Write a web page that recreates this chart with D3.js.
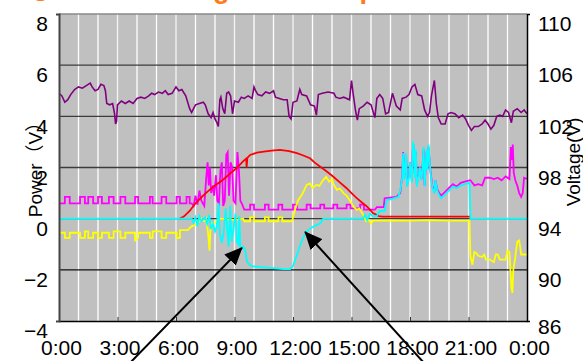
<!DOCTYPE html>
<html>
<head>
<meta charset="utf-8">
<script src="https://cdn.jsdelivr.net/npm/d3@7"></script>
<style>
  body { margin: 0; background: #fff; }
  svg { display: block; }
</style>
</head>
<body>
<svg id="chart" width="583" height="361"></svg>
<script>

// x ticks (hours) and their labels
const hourTicks = [0, 3, 6, 9, 12, 15, 18, 21, 24];
const hourLabels = ['0:00', '3:00', '6:00', '9:00', '12:00', '15:00', '18:00', '21:00', '0:00'];
const powerTicks = [8, 6, 4, 2, 0, -2, -4];
const voltTicks = [110, 106, 102, 98, 94, 90, 86];

// voltage, right axis [hour, V]
const voltage = [[0,103.8],[0.15,103.6],[0.3,103.1],[0.45,103.3],[0.6,103.7],[0.8,104.1],[1.0,104.3],[1.2,104.2],[1.4,104.4],[1.6,104.6],[1.7,104.3],[1.85,104.0],[2.0,104.1],[2.15,104.5],[2.3,104.4],[2.38,104.0],[2.45,103.0],[2.6,102.9],[2.75,103.0],[2.85,102.2],[2.9,101.4],[2.95,101.6],[3.0,102.9],[3.2,103.2],[3.4,103.0],[3.6,103.2],[3.8,103.0],[4.0,103.4],[4.2,103.5],[4.4,103.4],[4.6,103.6],[4.75,103.8],[4.9,103.7],[5.1,103.9],[5.3,103.8],[5.45,104.0],[5.6,103.7],[5.8,103.8],[6.0,104.3],[6.15,104.0],[6.3,104.1],[6.5,103.6],[6.7,102.6],[6.8,102.3],[6.9,102.6],[7.0,102.9],[7.2,103.0],[7.4,103.1],[7.5,102.9],[7.65,102.2],[7.8,101.9],[7.9,102.3],[8.0,101.8],[8.1,101.5],[8.17,101.2],[8.25,103.3],[8.3,103.5],[8.4,102.6],[8.5,102.2],[8.6,103.8],[8.7,103.9],[8.8,103.6],[8.9,102.2],[9.0,103.2],[9.2,103.1],[9.35,103.5],[9.5,103.4],[9.7,103.6],[9.9,103.4],[10.0,104.3],[10.08,104.0],[10.2,103.7],[10.4,103.6],[10.6,103.9],[10.8,103.8],[11.0,104.0],[11.1,103.5],[11.3,103.4],[11.5,103.3],[11.7,103.3],[11.8,102.0],[11.9,101.8],[12.0,103.1],[12.2,103.2],[12.35,104.1],[12.45,103.7],[12.7,103.6],[12.9,102.9],[13.1,102.8],[13.2,102.1],[13.3,103.7],[13.5,103.8],[13.8,103.9],[14.1,103.8],[14.2,103.5],[14.4,103.4],[14.6,103.5],[14.9,103.3],[15.0,104.8],[15.1,103.6],[15.2,102.5],[15.3,101.7],[15.4,102.6],[15.6,102.8],[15.8,103.1],[16.0,102.9],[16.2,101.9],[16.3,103.4],[16.45,103.7],[16.6,103.4],[16.75,102.2],[16.9,102.3],[17.1,103.8],[17.3,102.8],[17.5,102.5],[17.6,103.4],[17.8,103.5],[17.95,103.7],[18.1,104.3],[18.25,104.5],[18.4,103.7],[18.6,103.6],[18.75,102.5],[18.9,102.0],[19.0,102.3],[19.1,103.6],[19.25,104.8],[19.35,103.0],[19.45,101.9],[19.6,101.4],[19.8,101.4],[19.95,102.2],[20.1,102.3],[20.3,102.2],[20.5,101.9],[20.7,102.1],[20.85,101.8],[21.0,101.3],[21.15,100.9],[21.3,101.2],[21.5,101.2],[21.7,101.4],[21.85,101.7],[22.0,101.4],[22.15,101.0],[22.3,101.3],[22.45,102.0],[22.6,102.1],[22.75,102.0],[22.9,102.5],[23.05,102.3],[23.2,101.5],[23.3,102.4],[23.5,102.6],[23.7,102.3],[23.85,102.5],[24.0,102.2]];

// load, left axis [hour, kW]
const load = [[0,0.6],[0.3,0.6],[0.3,0.85],[0.55,0.85],[0.55,0.6],[1.08,0.6],[1.08,0.85],[1.33,0.85],[1.33,0.6],[1.5,0.6],[1.5,0.85],[1.75,0.85],[1.75,0.6],[2.0,0.6],[2.0,0.85],[2.2,0.85],[2.2,0.6],[2.56,0.6],[2.56,0.85],[2.8,0.85],[2.8,0.6],[3.15,0.6],[3.15,0.85],[3.4,0.85],[3.4,0.6],[3.9,0.6],[3.9,0.85],[4.06,0.85],[4.06,0.6],[4.66,0.6],[4.66,0.85],[4.8,0.85],[4.8,0.6],[5.26,0.6],[5.26,0.85],[5.5,0.85],[5.5,0.6],[6.03,0.6],[6.03,0.85],[6.2,0.85],[6.2,0.6],[6.54,0.6],[6.54,0.85],[6.7,0.85],[6.7,0.6],[6.8,0.6],[6.9,0.5],[7.0,0.9],[7.1,0.55],[7.2,1.1],[7.3,0.7],[7.45,0.5],[7.55,1.6],[7.62,2.2],[7.68,1.3],[7.74,2.0],[7.8,1.0],[7.9,1.3],[7.95,0.9],[8.05,1.7],[8.12,0.7],[8.2,0.6],[8.28,1.9],[8.35,2.2],[8.42,0.5],[8.5,0.7],[8.58,2.5],[8.65,2.6],[8.72,0.9],[8.8,2.2],[8.88,2.0],[8.95,0.7],[9.05,0.6],[9.15,2.6],[9.22,2.0],[9.3,0.7],[9.4,0.55],[9.5,0.35],[9.8,0.35],[9.8,0.55],[10.0,0.55],[10.0,0.35],[10.56,0.35],[10.56,0.55],[10.75,0.55],[10.75,0.35],[11.25,0.35],[11.25,0.55],[11.45,0.55],[11.45,0.35],[12.0,0.35],[12.0,0.55],[12.2,0.55],[12.2,0.35],[12.7,0.35],[12.7,0.55],[12.9,0.55],[12.9,0.4],[13.4,0.4],[13.4,0.55],[13.6,0.55],[13.6,0.4],[14.07,0.4],[14.07,0.55],[14.27,0.55],[14.27,0.4],[14.75,0.4],[14.75,0.55],[14.95,0.55],[14.95,0.4],[15.44,0.4],[15.44,0.55],[15.64,0.55],[15.64,0.35],[16.2,0.35],[16.3,0.45],[16.65,0.45],[16.7,0.8],[17.3,0.85],[17.5,1.0],[17.6,1.7],[17.65,2.6],[17.7,1.6],[17.8,2.5],[17.85,1.3],[17.95,1.7],[18.0,2.2],[18.1,1.5],[18.15,2.85],[18.2,2.8],[18.25,1.7],[18.3,2.6],[18.35,1.35],[18.45,1.75],[18.5,2.0],[18.6,1.55],[18.7,2.7],[18.75,1.3],[18.85,2.6],[18.9,1.95],[18.95,2.8],[19.05,1.85],[19.15,1.25],[19.25,1.1],[19.3,1.5],[19.4,1.15],[19.5,1.0],[19.6,0.9],[19.8,1.05],[20.0,1.2],[20.2,1.35],[20.4,1.25],[20.6,1.4],[20.8,1.45],[21.05,1.5],[21.1,1.5],[21.3,1.3],[21.5,1.35],[21.7,1.3],[21.85,1.6],[22.1,1.6],[22.3,1.55],[22.5,1.6],[22.7,1.5],[22.9,1.65],[23.1,1.55],[23.17,2.8],[23.22,2.3],[23.27,2.9],[23.32,1.8],[23.4,1.5],[23.5,1.3],[23.6,1.0],[23.7,0.85],[23.78,1.0],[23.85,1.6],[24,1.55]];

// PV generation
const pv = [[6.2,0],[6.4,0.08],[6.7,0.3],[7.0,0.6],[7.3,0.83],[7.6,1.05],[8.0,1.3],[8.4,1.51],[8.8,1.78],[9.1,1.97],[9.45,2.25],[9.6,2.35],[9.62,2.0],[9.66,2.38],[9.8,2.49],[10.15,2.58],[10.5,2.62],[10.9,2.66],[11.33,2.69],[11.8,2.64],[12.2,2.56],[12.5,2.48],[12.87,2.36],[13.1,2.2],[13.4,2.03],[13.7,1.86],[14.07,1.64],[14.4,1.42],[14.75,1.19],[15.0,1.0],[15.27,0.8],[15.55,0.62],[15.8,0.47],[16.1,0.22],[16.4,0.1],[16.6,0.08],[21.1,0.08]];

// battery
const battery = [[0,-0.55],[0.3,-0.55],[0.3,-0.75],[0.55,-0.75],[0.55,-0.55],[1.08,-0.55],[1.08,-0.75],[1.33,-0.75],[1.33,-0.5],[1.5,-0.5],[1.5,-0.75],[1.75,-0.75],[1.75,-0.55],[2.0,-0.55],[2.0,-0.75],[2.2,-0.75],[2.2,-0.55],[2.56,-0.55],[2.56,-0.75],[2.8,-0.75],[2.8,-0.5],[3.15,-0.5],[3.15,-0.75],[3.4,-0.75],[3.4,-0.55],[3.9,-0.55],[3.9,-0.85],[4.06,-0.75],[4.06,-0.55],[4.66,-0.55],[4.66,-0.75],[4.8,-0.75],[4.8,-0.5],[5.26,-0.5],[5.26,-0.75],[5.5,-0.75],[5.5,-0.55],[6.03,-0.55],[6.03,-0.75],[6.2,-0.75],[6.2,-0.45],[6.6,-0.45],[6.8,-0.3],[7.0,-0.24],[7.2,-0.1],[7.3,0],[7.45,-0.1],[7.55,0.0],[7.65,-0.6],[7.72,-1.25],[7.76,-0.5],[7.82,-0.2],[8.0,-0.15],[8.15,-0.05],[8.3,0.0],[9.0,-0.05],[9.45,0.0],[9.5,-0.1],[9.8,-0.1],[9.8,0.05],[10.0,0.05],[10.0,-0.1],[10.56,-0.1],[10.56,0.05],[10.75,0.05],[10.75,-0.1],[11.25,-0.1],[11.25,0.05],[11.45,0.05],[11.45,-0.1],[11.95,-0.1],[12.1,0.34],[12.25,0.7],[12.5,0.99],[12.7,1.32],[12.87,1.38],[13.0,1.2],[13.2,1.32],[13.35,1.28],[13.55,1.51],[13.7,1.64],[13.85,1.45],[14.0,1.55],[14.07,1.35],[14.25,1.13],[14.4,1.18],[14.6,0.99],[14.75,0.9],[14.9,0.73],[15.1,0.47],[15.27,0.34],[15.4,0.4],[15.6,0.15],[15.75,-0.1],[15.9,-0.05],[16.0,-0.2],[16.1,-0.08],[17,-0.07],[18,-0.08],[19,-0.06],[20,-0.08],[21.05,-0.08],[21.1,-1.48],[21.2,-1.8],[21.3,-1.3],[21.4,-1.35],[21.5,-1.45],[21.7,-1.5],[21.8,-1.4],[21.9,-1.6],[22.1,-1.6],[22.3,-1.7],[22.4,-1.4],[22.5,-1.4],[22.6,-1.6],[22.9,-1.6],[23.0,-1.25],[23.1,-1.3],[23.2,-2.7],[23.25,-2.9],[23.3,-2.0],[23.4,-1.5],[23.5,-0.9],[23.6,-0.85],[23.7,-1.4],[24,-1.4]];

// grid (purchase / reverse flow)
const grid = [[0,0],[6.8,0],[6.9,-0.15],[7.0,0.05],[7.1,-0.3],[7.2,0.1],[7.3,-0.1],[7.5,0.05],[7.6,-0.2],[7.7,0.15],[7.8,-0.4],[7.9,-0.2],[8.0,-0.5],[8.1,-0.3],[8.18,0.6],[8.25,-0.6],[8.35,-0.95],[8.45,-0.5],[8.55,0.4],[8.62,-0.3],[8.7,-1.1],[8.78,0.5],[8.85,-0.9],[8.95,-0.4],[9.05,0.2],[9.12,-0.9],[9.2,-1.0],[9.25,0.1],[9.3,-1.2],[9.45,-1.1],[9.55,-1.25],[9.65,-1.7],[9.8,-1.82],[10.0,-1.87],[10.5,-1.9],[11.0,-1.93],[11.5,-1.97],[11.85,-1.97],[12.0,-1.85],[12.2,-1.42],[12.4,-0.96],[12.55,-0.7],[12.7,-0.5],[12.85,-0.4],[13.05,-0.31],[13.2,-0.25],[13.4,-0.18],[13.55,0],[15.6,0],[15.7,0.15],[15.8,-0.05],[15.95,0.2],[16.1,0.1],[16.3,0.1],[16.45,0.3],[16.7,0.3],[16.8,0.73],[17.0,0.75],[17.2,0.8],[17.4,0.85],[17.5,1.1],[17.6,1.6],[17.65,2.57],[17.7,1.5],[17.8,2.55],[17.85,1.25],[17.95,1.6],[18.0,2.2],[18.1,1.4],[18.15,2.95],[18.2,2.9],[18.25,1.6],[18.3,2.7],[18.35,1.25],[18.45,1.7],[18.5,2.0],[18.6,1.5],[18.7,2.8],[18.75,1.25],[18.85,2.7],[18.9,1.9],[18.95,2.9],[19.05,1.8],[19.15,1.2],[19.25,1.0],[19.3,1.5],[19.4,1.1],[19.5,0.9],[19.6,0.8],[19.8,0.95],[20.0,1.1],[20.2,1.25],[20.4,1.2],[20.6,1.3],[20.8,1.35],[21.05,1.4],[21.1,0],[24,0]];

// arrows: [tailHour, tailPower, tipHour, tipPower]
const arrows = [[3.64, -5.64, 9.38, -1.14], [18.72, -5.64, 12.62, -0.52]];


const svg = d3.select('#chart');
const plot = {left: 59, right: 527, top: 14, bottom: 321};

const x = d3.scaleLinear().domain([0, 24]).range([plot.left, plot.right]);
const yL = d3.scaleLinear().domain([-4, 8]).range([plot.bottom, plot.top]);
const yR = d3.scaleLinear().domain([86, 110]).range([plot.bottom, plot.top]);

const font = '"Liberation Sans Narrow", "Arial Narrow", "Liberation Sans", sans-serif';

// title, mostly cut off by the top edge
const title = svg.append('text')
  .attr('x', 27)
  .attr('y', -2)
  .style('font-family', '"Liberation Sans", "Noto Sans CJK JP", sans-serif')
  .style('font-weight', 'bold')
  .style('font-size', '27px')
  .style('fill', '#ff7a1a')
  .text('③ Power change');
title.append('tspan').attr('dx', 46).text('example');

svg.append('defs')
  .append('clipPath').attr('id', 'plotclip')
  .append('rect')
  .attr('x', plot.left).attr('y', plot.top)
  .attr('width', plot.right - plot.left).attr('height', plot.bottom - plot.top);

svg.append('rect')
  .attr('x', plot.left).attr('y', plot.top)
  .attr('width', plot.right - plot.left).attr('height', plot.bottom - plot.top)
  .style('fill', '#c0c0c0');

// hourly white grid
svg.append('g').selectAll('line')
  .data(d3.range(1, 24))
  .enter().append('line')
  .attr('x1', d => x(d)).attr('x2', d => x(d))
  .attr('y1', plot.top).attr('y2', plot.bottom)
  .style('stroke', d => d % 3 === 0 ? '#f4f4f4' : '#ffffff')
  .style('stroke-width', 1.3);

svg.append('g').selectAll('line')
  .data(powerTicks.slice(1, -1))
  .enter().append('line')
  .attr('x1', plot.left).attr('x2', plot.right)
  .attr('y1', d => yL(d)).attr('y2', d => yL(d))
  .style('stroke', d => d === -2 ? '#111' : '#3c3c3c')
  .style('stroke-width', 1.4);

// top border
svg.append('line')
  .attr('x1', plot.left).attr('x2', plot.right)
  .attr('y1', plot.top).attr('y2', plot.top)
  .style('stroke', '#8a8a8a').style('stroke-width', 1.5);

// series
const lineL = d3.line().x(d => x(d[0])).y(d => yL(d[1]));
const lineR = d3.line().x(d => x(d[0])).y(d => yR(d[1]));

const series = svg.append('g').attr('clip-path', 'url(#plotclip)');

series.append('path').datum(voltage).attr('d', lineR)
  .style('fill', 'none').style('stroke', '#800080').style('stroke-width', 1.6);

series.append('path').datum(load).attr('d', lineL)
  .style('fill', 'none').style('stroke', '#ff00ff').style('stroke-width', 1.8);

series.append('path').datum(pv).attr('d', lineL)
  .style('fill', 'none').style('stroke', '#ff0000').style('stroke-width', 1.8);

series.append('path').datum(battery).attr('d', lineL)
  .style('fill', 'none').style('stroke', '#ffff00').style('stroke-width', 1.8);

series.append('path').datum(grid).attr('d', lineL)
  .style('fill', 'none').style('stroke', '#00ffff').style('stroke-width', 1.8);

// axes
const xAxis = svg.append('g')
  .attr('transform', `translate(0,${plot.bottom})`)
  .call(d3.axisBottom(x).tickValues(hourTicks).tickFormat((d, i) => hourLabels[i])
    .tickSizeInner(-4).tickSizeOuter(0).tickPadding(19));
xAxis.select('.domain').style('stroke', '#000').style('stroke-width', 1.5);
xAxis.selectAll('.tick line').style('stroke', '#333');
xAxis.selectAll('text').attr('dx', 2);

const leftAxis = svg.append('g')
  .attr('transform', `translate(${plot.left},0)`)
  .call(d3.axisLeft(yL).tickValues(powerTicks).tickFormat(d => d < 0 ? '\u2212' + (-d) : d)
    .tickSizeInner(0).tickSizeOuter(3).tickPadding(11));
leftAxis.select('.domain').style('stroke', '#444').style('stroke-width', 2);
leftAxis.selectAll('text').attr('transform', 'translate(0,10)');

const rightAxis = svg.append('g')
  .attr('transform', `translate(${plot.right},0)`)
  .call(d3.axisRight(yR).tickValues(voltTicks)
    .tickSizeInner(0).tickSizeOuter(3).tickPadding(11));
rightAxis.select('.domain').style('stroke', '#000').style('stroke-width', 1.5);
rightAxis.selectAll('text').attr('transform', d => `translate(0,${d === 86 ? 6 : 10})`);

svg.selectAll('.tick text')
  .style('font-family', font)
  .style('font-size', '21px')
  .style('fill', '#000');

// axis titles
svg.append('text')
  .attr('transform', 'translate(42,165) rotate(-90)')
  .attr('text-anchor', 'middle')
  .style('font-family', '"Liberation Sans", "Noto Sans CJK JP", sans-serif')
  .style('font-size', '19px')
  .text('Power（V）');

svg.append('text')
  .attr('transform', 'translate(580,162) rotate(-90)')
  .attr('text-anchor', 'middle')
  .style('font-family', '"Liberation Sans", sans-serif')
  .style('font-size', '19px')
  .text('Voltage(V)');

// arrows
svg.select('defs').append('marker')
  .attr('id', 'head')
  .attr('markerUnits', 'userSpaceOnUse')
  .attr('markerWidth', 18).attr('markerHeight', 16)
  .attr('refX', 17).attr('refY', 8)
  .attr('orient', 'auto')
  .append('path')
  .attr('d', 'M0,0 L18,8 L0,16 Z')
  .style('fill', '#000');

svg.append('g').selectAll('line')
  .data(arrows)
  .enter().append('line')
  .attr('x1', d => x(d[0])).attr('y1', d => yL(d[1]))
  .attr('x2', d => x(d[2])).attr('y2', d => yL(d[3]))
  .style('stroke', '#000').style('stroke-width', 2)
  .attr('marker-end', 'url(#head)');

</script>
</body>
</html>
